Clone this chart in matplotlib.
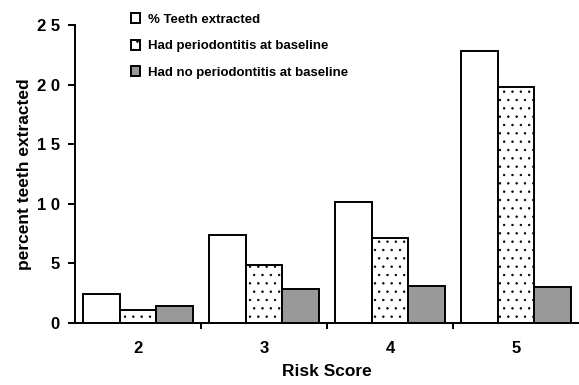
import numpy as np
import matplotlib.pyplot as plt

# risk score groups and extraction percentages
scores = ["2", "3", "4", "5"]
teeth_extracted = [2.4, 7.4, 10.1, 22.8]
had_perio = [1.1, 4.8, 7.1, 19.8]
no_perio = [1.4, 2.8, 3.1, 3.0]
series_names = ["% Teeth extracted",
                "Had periodontitis at baseline",
                "Had no periodontitis at baseline"]
y_ticks = [0, 5, 10, 15, 20, 25]
y_tick_labels = ["0", "5", "1 0", "1 5", "2 0", "2 5"]

plt.rcParams['font.family'] = ['Liberation Sans', 'DejaVu Sans']
plt.rcParams['hatch.linewidth'] = 0.5

fig = plt.figure(figsize=(5.79, 3.85), dpi=100)
ax = fig.add_axes([0.1295, 0.162, 0.8705, 0.773])

x = np.arange(2, 6)
w = 0.29
ax.bar(x - w, teeth_extracted, w, color="white", edgecolor="black",
       linewidth=1.4, label=series_names[0])
ax.bar(x, had_perio, w, color="white", edgecolor="black", hatch="..",
       linewidth=1.4, label=series_names[1])
ax.bar(x + w, no_perio, w, color="#999999", edgecolor="black",
       linewidth=1.4, label=series_names[2])

ax.set_xlim(1.5, 5.5)
ax.set_ylim(0, 25)
ax.spines["top"].set_visible(False)
ax.spines["right"].set_visible(False)
ax.spines["left"].set_linewidth(1.4)
ax.spines["bottom"].set_linewidth(1.4)

ax.set_yticks(y_ticks)
ax.set_yticklabels(y_tick_labels, fontsize=12, fontweight="bold")
ax.set_xticks([2.5, 3.5, 4.5])
ax.set_xticklabels([])
ax.set_xticks(x, minor=True)
ax.set_xticklabels(scores, minor=True, fontsize=12, fontweight="bold")
ax.tick_params(axis="x", which="minor", length=0, pad=13)
ax.tick_params(axis="x", which="major", length=4, width=1.4)
ax.tick_params(axis="y", length=5, width=1.4, pad=6)

ax.set_xlabel("Risk Score", fontsize=12.5, fontweight="bold", labelpad=6)
ax.set_ylabel("percent teeth extracted", fontsize=12.5, fontweight="bold",
              labelpad=3)

ax.legend(loc="upper left", bbox_to_anchor=(0.088, 1.08), frameon=False,
          prop={"size": 9.5, "weight": "bold"}, handlelength=0.7,
          handleheight=0.8, handletextpad=0.6, labelspacing=1.05)

fig.savefig("out.png", dpi=100)
